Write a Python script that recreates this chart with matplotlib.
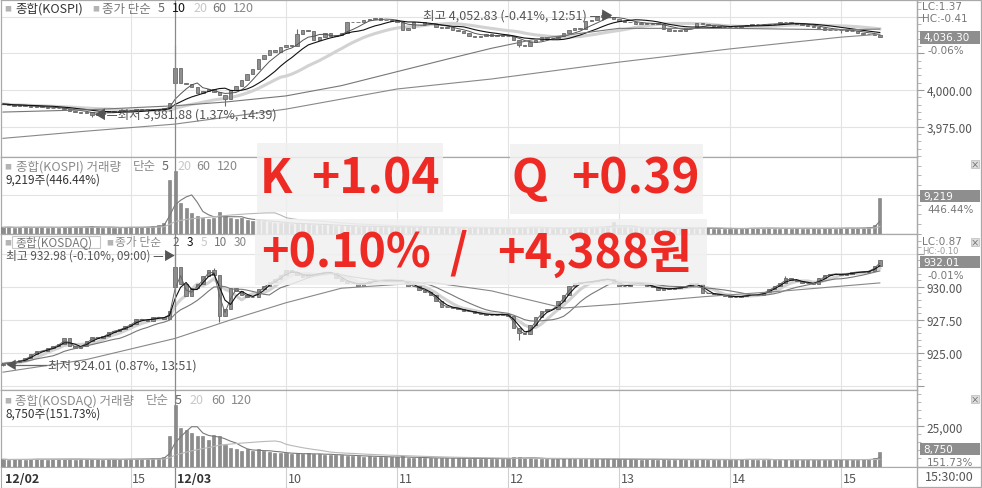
import numpy as np
import pandas as pd
import matplotlib
matplotlib.use('Agg')
import matplotlib.pyplot as plt
from matplotlib.patches import Rectangle
from matplotlib.lines import Line2D
from matplotlib.ticker import FixedLocator, MultipleLocator, FuncFormatter

plt.rcParams['font.family'] = ['Noto Sans CJK KR', 'DejaVu Sans']
plt.rcParams['axes.unicode_minus'] = False

W, H = 982, 489

# 3-minute bars: 12/02 13:51 .. 15:30, then 12/03 09:00 .. 15:21
hour_ticks = [23, 51, 71, 91, 111, 131, 151]
hour_labels = ['15', '10', '11', '12', '13', '14', '15']
day_break = 31

kospi_close = [
    3990.5, 3990.0, 3989.2, 3989.6, 3989.0, 3988.6, 3988.8, 3988.2, 3987.9, 3987.5,
    3987.6, 3987.1, 3985.8, 3985.0, 3984.6, 3984.9, 3983.2, 3984.0, 3984.8, 3985.5,
    3985.2, 3986.0, 3986.4, 3986.1, 3986.8, 3986.5, 3987.0, 3986.7, 3987.3, 3988.0,
    3991.5, 4015.0, 4005.0, 4004.0, 4002.0, 3998.0, 3999.0, 4000.5, 3998.5, 3996.5,
    3994.0, 4000.0, 4003.0, 4007.0, 4011.0, 4014.0, 4021.0, 4024.0, 4027.0, 4026.0,
    4029.0, 4031.0, 4030.0, 4038.0, 4041.0, 4040.0, 4034.0, 4036.0, 4039.0, 4037.0,
    4037.5, 4039.0, 4046.0, 4046.5, 4046.0, 4048.0, 4048.5, 4049.0, 4048.0, 4048.0,
    4047.0, 4046.0, 4041.0, 4042.0, 4046.0, 4046.0, 4045.0, 4045.0, 4043.0, 4042.0,
    4043.0, 4041.0, 4040.0, 4039.0, 4037.0, 4036.0, 4037.0, 4038.0, 4037.0, 4037.5,
    4037.0, 4036.5, 4034.0, 4031.0, 4030.0, 4033.0, 4034.0, 4036.0, 4035.5, 4035.5,
    4037.0, 4039.0, 4041.0, 4042.0, 4041.5, 4047.0, 4048.0, 4049.5, 4051.0, 4050.0,
    4048.5, 4047.0, 4046.5, 4046.0, 4045.0, 4045.5, 4045.0, 4045.5, 4045.0, 4041.5,
    4040.5, 4041.0, 4040.5, 4042.0, 4042.5, 4045.5, 4045.0, 4044.0, 4043.5, 4043.0,
    4043.0, 4043.0, 4043.0, 4043.5, 4044.0, 4045.0, 4045.0, 4045.0, 4045.0, 4045.0,
    4046.0, 4046.0, 4045.5, 4045.0, 4044.0, 4043.5, 4043.0, 4042.0, 4041.0, 4041.0,
    4041.0, 4041.0, 4040.0, 4040.0, 4039.0, 4038.0, 4038.0, 4037.5, 4036.3,
]
kospi_open_gap = {0: 3990.8, 31: 4005.0}
kospi_high_ext = {31: 4031.0, 53: 4041.5, 108: 4052.83}
kospi_low_ext = {16: 3981.88, 31: 4003.0, 40: 3989.0, 93: 4029.0, 151: 4038.5}
kospi_ma60_idx = [0, 15, 31, 40, 51, 61, 71, 80, 88, 96, 111, 131, 151, 158]
kospi_ma60_val = [3985.0, 3986.5, 3989.3, 3991.8, 3996.0, 4003.0, 4012.5, 4021.0,
                  4028.4, 4034.7, 4042.0, 4042.0, 4041.0, 4041.5]
kospi_ma120_idx = [0, 15, 31, 51, 71, 88, 111, 131, 151, 158]
kospi_ma120_val = [3967.1, 3972.0, 3976.8, 3987.0, 4000.7, 4007.5, 4019.0, 4028.0,
                   4036.0, 4038.0]
kospi_vol = [
    1700, 1800, 1600, 1700, 1900, 1600, 1700, 1800, 1600, 1700,
    1650, 1750, 1900, 1800, 1700, 1800, 2000, 1700, 1600, 1700,
    1650, 1600, 1700, 1800, 1700, 1750, 1800, 2100, 2400, 2800,
    13900, 16000, 8000, 6700, 5400, 4600, 4200, 3800, 4000, 5600,
    4500, 4200, 3800, 4000, 3500, 3300, 3600, 3200, 3000, 2800,
    2900, 2700, 2600, 2500, 2700, 2500, 2400, 2300, 2400, 2200,
    2100, 2100, 2000, 2100, 1900, 2000, 1900, 1800, 1900, 1800,
    1800, 1700, 1800, 1900, 1800, 1700, 1700, 1600, 1700, 1600,
    1600, 1700, 1600, 1500, 1600, 1600, 1500, 1600, 1500, 1500,
    1600, 1500, 1600, 1800, 1900, 1700, 1600, 1500, 1500, 1400,
    1500, 1500, 1600, 1600, 1700, 1600, 1900, 1800, 1700, 2000,
    3100, 1800, 1700, 1600, 1500, 1500, 1400, 1500, 1400, 1400,
    1500, 1500, 1400, 1400, 1500, 1400, 1600, 1500, 1400, 1400,
    1300, 1400, 1400, 1400, 1500, 1600, 1500, 1400, 1500, 1400,
    1400, 1500, 1400, 1500, 1400, 1400, 1500, 1400, 1500, 1500,
    1400, 1500, 1600, 1500, 1500, 1600, 1700, 2300, 9219,
]

kosdaq_close = [
    924.20, 924.25, 924.30, 924.45, 924.60, 924.90, 925.15, 925.15, 925.35, 925.50,
    925.70, 926.10, 925.50, 925.40, 925.55, 925.90, 926.20, 926.10, 926.30, 926.60,
    926.70, 926.80, 927.05, 927.20, 927.60, 927.50, 927.45, 927.70, 927.70, 927.60,
    928.20, 931.50, 930.20, 929.30, 929.90, 930.20, 930.80, 931.30, 930.90, 927.80,
    928.30, 929.90, 929.70, 929.40, 929.20, 929.25, 929.85, 930.10, 930.40, 930.60,
    930.90, 931.30, 931.15, 930.90, 930.75, 930.95, 930.95, 931.05, 931.15, 931.05,
    930.70, 930.45, 930.30, 930.30, 930.10, 930.30, 930.45, 930.50, 930.50, 930.50,
    930.50, 930.45, 930.45, 930.05, 930.05, 929.80, 929.65, 929.40, 928.90, 928.50,
    928.50, 928.40, 928.30, 928.15, 928.15, 928.00, 927.95, 927.90, 927.90, 927.90,
    927.95, 927.80, 926.90, 926.50, 926.40, 927.10, 927.75, 928.15, 928.30, 928.30,
    928.90, 929.40, 930.05, 930.30, 930.35, 930.35, 930.45, 930.50, 930.60, 930.60,
    930.30, 930.05, 930.05, 930.30, 930.30, 930.20, 930.05, 930.00, 929.80, 929.90,
    929.85, 929.90, 930.00, 930.05, 930.30, 930.20, 929.55, 929.50, 929.45, 929.40,
    929.30, 929.25, 929.25, 929.30, 929.40, 929.40, 929.40, 929.60, 929.85, 930.10,
    930.30, 930.70, 930.50, 930.45, 930.30, 930.30, 930.20, 930.65, 930.90, 930.95,
    931.00, 930.90, 931.00, 931.15, 931.10, 931.15, 931.20, 931.60, 932.01,
]
kosdaq_open_gap = {0: 924.10, 31: 930.00}
kosdaq_high_ext = {31: 932.98, 38: 931.45, 141: 930.85}
kosdaq_low_ext = {0: 924.01, 31: 929.80, 39: 927.35, 93: 926.00}
kosdaq_ma30_idx = [0, 15, 31, 41, 51, 61, 77, 88, 101, 111, 126, 141, 158]
kosdaq_ma30_val = [923.55, 924.50, 926.10, 927.50, 928.80, 929.90, 930.35, 929.70,
                   928.40, 928.70, 929.25, 929.70, 930.30]
kosdaq_vol = [
    4500, 4200, 4400, 4600, 4300, 4500, 4800, 4400, 4300, 4700,
    4500, 4900, 4600, 4300, 4400, 4500, 4700, 4400, 4300, 4500,
    4600, 4400, 4500, 4700, 4800, 4600, 4900, 5000, 5300, 5800,
    18800, 38000, 23700, 22500, 20600, 18700, 18700, 16200, 19400, 18700,
    13100, 11200, 10600, 9400, 10600, 9400, 10600, 9400, 9000, 8500,
    8100, 8100, 7800, 8200, 7600, 8100, 7500, 7800, 7200, 7400,
    6900, 7000, 6600, 6800, 6400, 6200, 6500, 6000, 6100, 5800,
    5600, 5800, 6400, 5500, 5300, 5600, 5200, 5400, 5100, 5300,
    5200, 5000, 5300, 5100, 4900, 5000, 4800, 5100, 4900, 4800,
    4700, 4900, 5600, 5900, 5400, 5000, 4800, 4700, 4600, 4800,
    4700, 5000, 5200, 4900, 4800, 4700, 4900, 4600, 4500, 4700,
    4600, 4500, 4400, 4600, 4500, 4300, 4400, 4500, 4300, 4400,
    4300, 4200, 4400, 4300, 4200, 4300, 4500, 4200, 4300, 4100,
    4200, 4300, 4200, 4500, 4800, 4400, 4200, 4300, 4400, 4200,
    4300, 4400, 4200, 4300, 4100, 4200, 4300, 4200, 4100, 4300,
    4200, 4400, 4300, 4200, 4300, 4400, 4500, 5200, 8750,
]

GRID = '#e3e3e3'
EDGE = '#a9a9a9'
fig = plt.figure(figsize=(W / 100, H / 100), dpi=100)
fig.patch.set_facecolor('white')


def fy(y):
    return 1 - y / H


def ftext(x, y, s, **kw):
    kw.setdefault('va', 'center')
    kw.setdefault('ha', 'left')
    kw.setdefault('fontsize', 9)
    return fig.text(x / W, fy(y), s, **kw)


def rtext(x, y, s, **kw):
    # right-column numeric labels
    kw.setdefault('fontsize', 7.5)
    kw.setdefault('family', 'DejaVu Sans')
    return ftext(x, y, s, **kw)


def frect(x0, y0, x1, y1, **kw):
    r = Rectangle((x0 / W, fy(y1)), (x1 - x0) / W, (y1 - y0) / H,
                  transform=fig.transFigure, **kw)
    fig.add_artist(r)
    return r


def fline(x0, x1, y, **kw):
    fig.add_artist(Line2D([x0 / W, x1 / W], [fy(y), fy(y)],
                          transform=fig.transFigure, **kw))


def make_panel(top, bottom, ylim, major, labeled, minor, fmt):
    ax = fig.add_axes([1 / W, fy(bottom), 916 / W, (bottom - top) / H])
    ax.set_xlim(-0.36, 164.7)
    ax.set_ylim(*ylim)
    for s in ax.spines.values():
        s.set_color(EDGE)
        s.set_linewidth(0.9)
    ax.tick_params(axis='x', which='both', bottom=False, labelbottom=False)
    ax.yaxis.tick_right()
    ax.yaxis.set_major_locator(FixedLocator(major))
    ax.yaxis.set_minor_locator(MultipleLocator(minor))
    ax.yaxis.set_major_formatter(FuncFormatter(
        lambda v, p: fmt.format(v) if any(abs(v - l) < 1e-6 for l in labeled) else ''))
    ax.tick_params(axis='y', which='major', direction='out', length=5, width=0.8,
                   color='#999999', labelsize=8.5, labelcolor='#555555', pad=2)
    ax.tick_params(axis='y', which='minor', direction='out', length=3, width=0.6,
                   color='#aaaaaa')
    for v in major:
        ax.axhline(v, color=GRID, lw=0.8, zorder=0)
    for t in hour_ticks:
        ax.axvline(t, color=GRID, lw=0.8, zorder=0)
    ax.axvline(day_break, color='#8a8a8a', lw=0.9, zorder=6)
    return ax


def draw_candles(ax, close, open_gap, high_ext, low_ext):
    c = pd.Series(close, dtype=float)
    o = c.shift(1)
    for k, v in open_gap.items():
        o[k] = v
    hi = np.maximum(o, c)
    lo = np.minimum(o, c)
    for k, v in high_ext.items():
        hi[k] = max(hi[k], v)
    for k, v in low_ext.items():
        lo[k] = min(lo[k], v)
    x = np.arange(len(c))
    ax.vlines(x, lo, hi, color='#6a6a6a', lw=0.8, zorder=3)
    ax.bar(x, (c - o).abs(), bottom=np.minimum(o, c), width=0.62,
           color='#909090', edgecolor='#6a6a6a', lw=0.6, zorder=4)
    return c


def draw_volume(ax, vol):
    v = pd.Series(vol, dtype=float)
    x = np.arange(len(v))
    ax.bar(x, v, width=0.55, color='#8c8c8c', edgecolor='#7a7a7a', lw=0.4, zorder=3)
    ax.plot(x, v.rolling(5, min_periods=1).mean(), color='#7a7a7a', lw=0.8, zorder=4)
    ax.plot(x, v.rolling(20, min_periods=1).mean(), color='#b8b8b8', lw=0.8, zorder=4)


# ---- panel 1: KOSPI ----
ax1 = make_panel(1, 158, (3954.4, 4061.3), [3975, 4000, 4025, 4050], [3975, 4000], 5,
                 '{:,.2f}')
c1 = draw_candles(ax1, kospi_close, kospi_open_gap, kospi_high_ext, kospi_low_ext)
x1 = np.arange(len(c1))
ax1.plot(x1, c1.rolling(20, min_periods=1).mean(), color='#d2d2d2', lw=2.2, zorder=2)
ax1.plot(x1, c1.rolling(5, min_periods=1).mean(), color='#555555', lw=0.7, zorder=5)
ax1.plot(x1, c1.rolling(10, min_periods=1).mean(), color='#111111', lw=0.8, zorder=5)
ax1.plot(kospi_ma60_idx, kospi_ma60_val, color='#777777', lw=0.8, zorder=5)
ax1.plot(kospi_ma120_idx, kospi_ma120_val, color='#888888', lw=0.8, zorder=5)

# ---- panel 2: KOSPI volume ----
ax2 = make_panel(158, 235, (0, 19700), [10000], [], 2500, '{:,.0f}')
draw_volume(ax2, kospi_vol)

# ---- panel 3: KOSDAQ ----
ax3 = make_panel(235, 391, (922.2, 934.0), [922.5, 925, 927.5, 930, 932.5],
                 [925, 927.5, 930], 0.5, '{:,.2f}')
c3 = draw_candles(ax3, kosdaq_close, kosdaq_open_gap, kosdaq_high_ext, kosdaq_low_ext)
x3 = np.arange(len(c3))
ax3.plot(x3, c3.rolling(5, min_periods=1).mean(), color='#d2d2d2', lw=2.2, zorder=2)
ax3.plot(x3, c3.rolling(2, min_periods=1).mean(), color='#666666', lw=0.7, zorder=5)
ax3.plot(x3, c3.rolling(3, min_periods=1).mean(), color='#111111', lw=0.8, zorder=5)
ax3.plot(x3, c3.rolling(10, min_periods=1).mean(), color='#777777', lw=0.8, zorder=5)
ax3.plot(kosdaq_ma30_idx, kosdaq_ma30_val, color='#888888', lw=0.8, zorder=5)

# ---- panel 4: KOSDAQ volume ----
ax4 = make_panel(391, 468, (-300, 47500), [25000], [25000], 5000, '{:,.0f}')
draw_volume(ax4, kosdaq_vol)

# ---- time axis row ----
axb = fig.add_axes([1 / W, fy(489), 916 / W, 21 / H])
axb.set_xlim(-0.36, 164.7)
axb.set_ylim(0, 1)
axb.set_xticks([])
axb.set_yticks([])
for s in axb.spines.values():
    s.set_color(EDGE)
for t in hour_ticks:
    axb.axvline(t, color='#cfcfcf', lw=0.8)
axb.axvline(day_break, color='#8a8a8a', lw=0.9)
axb.text(0.3, 0.45, '12/02', fontsize=9, fontweight='bold', color='#333333', va='center')
axb.text(day_break + 0.3, 0.45, '12/03', fontsize=9, fontweight='bold', color='#333333',
         va='center')
for t, lab in zip(hour_ticks, hour_labels):
    axb.text(t + 0.3, 0.45, lab, fontsize=9, color='#555555', va='center')
frect(917, 468, 981, 488, fill=False, ec=EDGE, lw=0.9)
ftext(925, 478, '15:30:00', fontsize=9, color='#555555')
frect(917, 1, 981, 468, fill=False, ec=EDGE, lw=0.9)

# ---- legends ----
SQ = '#b4b4b4'
ftext(4, 9, '■', fontsize=5, color=SQ)
ftext(15, 9, '종합(KOSPI)', color='#333333')
ftext(92, 9, '■', fontsize=5, color=SQ)
ftext(102, 9, '종가 단순', color='#777777')
ftext(158, 9, '5', color='#666666')
ftext(172, 9, '10', color='#111111')
ftext(193, 9, '20', color='#c8c8c8')
ftext(212, 9, '60', color='#777777')
ftext(233, 9, '120', color='#888888')

ftext(4, 167, '■', fontsize=5, color=SQ)
ftext(16, 167, '종합(KOSPI) 거래량', color='#8a8a8a')
ftext(133, 167, '단순', color='#8a8a8a')
ftext(162, 167, '5', color='#666666')
ftext(177, 167, '20', color='#c8c8c8')
ftext(196, 167, '60', color='#888888')
ftext(217, 167, '120', color='#888888')
ftext(6, 180, '9,219주(446.44%)', fontsize=8.5, color='#333333')

ftext(4, 243, '■', fontsize=5, color=SQ)
frect(12, 237, 100, 249, fill=False, ec='#c8c8c8', lw=0.8)
ftext(15, 243, '종합(KOSDAQ)', fontsize=8.5, color='#777777')
ftext(106, 243, '■', fontsize=5, color=SQ)
ftext(115, 243, '종가 단순', fontsize=8.5, color='#8a8a8a')
ftext(172, 243, '2', fontsize=8.5, color='#666666')
ftext(187, 243, '3', fontsize=8.5, color='#111111')
ftext(201, 243, '5', fontsize=8.5, color='#c8c8c8')
ftext(214, 243, '10', fontsize=8.5, color='#777777')
ftext(234, 243, '30', fontsize=8.5, color='#888888')

ftext(4, 401, '■', fontsize=5, color=SQ)
ftext(15, 401, '종합(KOSDAQ) 거래량', color='#8a8a8a')
ftext(146, 401, '단순', color='#8a8a8a')
ftext(175, 401, '5', color='#666666')
ftext(189, 401, '20', color='#c8c8c8')
ftext(211, 401, '60', color='#888888')
ftext(231, 401, '120', color='#888888')
ftext(6, 414, '8,750주(151.73%)', fontsize=8.5, color='#333333')

# ---- high / low markers ----
ftext(423, 17, '최고 4,052.83 (-0.41%, 12:51) —▶', color='#555555')
ftext(94, 116, '◀—최저 3,981.88 (1.37%, 14:39)', color='#555555')
ftext(6, 256, '최고 932.98 (-0.10%, 09:00) —▶', fontsize=8.5, color='#555555')
ftext(5, 366, '◀', fontsize=8, color='#555555')
fline(14, 46, 366, color='#666666', lw=0.9)
ftext(48, 366, '최저 924.01 (0.87%, 13:51)', color='#555555')

# ---- right column labels ----
rtext(922, 7, 'LC:1.37', color='#777777')
rtext(922, 19, 'HC:-0.41', color='#777777')
frect(920, 32, 980, 45, fc='#8e8e8e', ec='none')
rtext(923, 38.5, '4,036.30', color='white')
rtext(927, 51, '-0.06%', color='#777777')

frect(920, 191, 980, 203, fc='#8e8e8e', ec='none')
rtext(923, 197, '9,219', color='white')
rtext(927, 210, '446.44%', color='#777777')

rtext(922, 242, 'LC:0.87', color='#777777')
rtext(922, 252, 'HC:-0.10', fontsize=6, color='#999999')
frect(920, 257, 980, 269, fc='#8e8e8e', ec='none')
rtext(923, 263, '932.01', color='white')
rtext(927, 276, '-0.01%', color='#777777')

frect(920, 444, 980, 456, fc='#8e8e8e', ec='none')
rtext(923, 450, '8,750', color='white')
rtext(927, 463, '151.73%', color='#777777')

for yy in (165, 243, 400):
    frect(971, yy - 4, 979, yy + 4, fc='#dddddd', ec='#bbbbbb', lw=0.5)
    ftext(975, yy, '×', fontsize=6, color='#555555', ha='center')

# ---- overlay summary ----
RED = '#ee2a24'
frect(257, 144, 443, 213, fc='#f0f0f0', ec='none', alpha=0.85)
frect(510, 145, 703, 215, fc='#f0f0f0', ec='none', alpha=0.85)
frect(255, 220, 707, 286, fc='#f0f0f0', ec='none', alpha=0.85)
ftext(260, 193, 'K', fontsize=34, fontweight='bold', color=RED, va='baseline')
ftext(311, 193, '+1.04', fontsize=34.5, fontweight='bold', color=RED, va='baseline')
ftext(511, 193, 'Q', fontsize=34, fontweight='bold', color=RED, va='baseline')
ftext(571, 193, '+0.39', fontsize=34.5, fontweight='bold', color=RED, va='baseline')
ftext(261, 268, '+0.10%', fontsize=33.5, fontweight='bold', color=RED, va='baseline')
ftext(449, 268, '/', fontsize=33.5, fontweight='bold', color=RED, va='baseline')
ftext(497, 268, '+4,388원', fontsize=33.5, fontweight='bold', color=RED, va='baseline')

fig.savefig('out.png', dpi=100, facecolor='white')
